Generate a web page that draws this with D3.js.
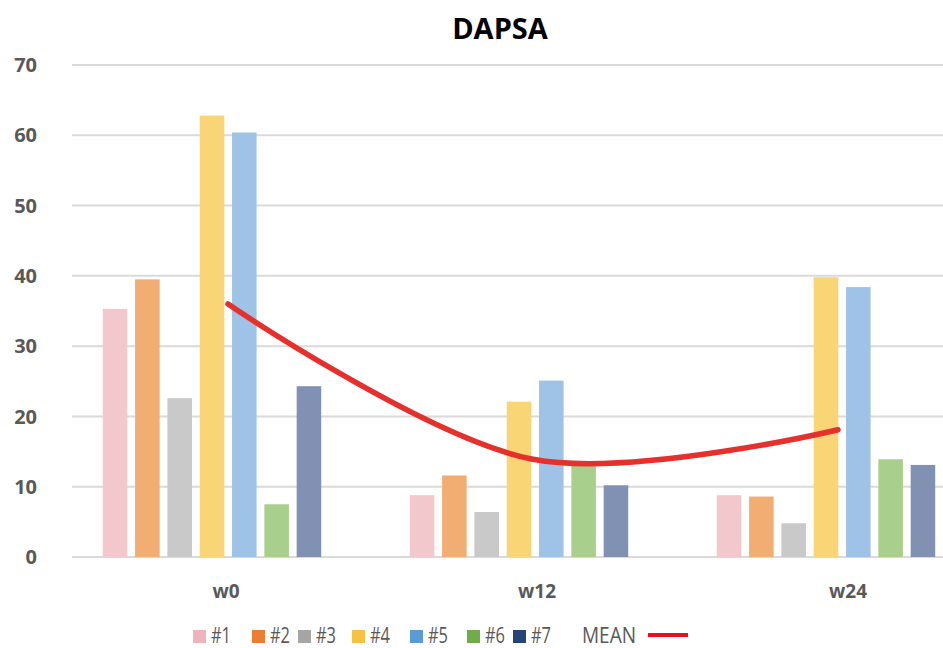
<!DOCTYPE html>
<html><head><meta charset="utf-8">
<script src="https://cdn.jsdelivr.net/npm/d3@7"></script>
<style>
html,body{margin:0;padding:0;background:#fff;}
svg{display:block;}
</style>
</head><body>
<svg id="chart" width="943" height="648"></svg>
<script>
const title = "DAPSA";
const categories = ["w0", "w12", "w24"];
const seriesNames = ["#1", "#2", "#3", "#4", "#5", "#6", "#7"];
const s1 = [35.3, 8.8, 8.8];
const s2 = [39.5, 11.6, 8.6];
const s3 = [22.6, 6.4, 4.8];
const s4 = [62.8, 22.1, 39.8];
const s5 = [60.4, 25.1, 38.4];
const s6 = [7.5, 13.4, 13.9];
const s7 = [24.3, 10.2, 13.1];
const meanValues = [36.0, 13.9, 18.1];
const meanLabel = "MEAN";
const yTicks = [0, 10, 20, 30, 40, 50, 60, 70];

const seriesValues = [s1, s2, s3, s4, s5, s6, s7];
const barColors = ["#f3c8cd", "#f1ad72", "#c9c9c9", "#f9d576", "#9fc3e7", "#a9cf8c", "#8191b3"];
const legendColors = ["#efb4bb", "#ed7d31", "#a5a5a5", "#f7c142", "#5b9bd5", "#70ad47", "#264478"];

const svg = d3.select("#chart");
const W = 943, H = 648;

const y = d3.scaleLinear().domain([0, 70]).range([557, 65]);
const x0 = d3.scaleBand().domain(categories).range([58.5, 979.5]).paddingInner(0).paddingOuter(0);
const x1 = d3.scaleBand().domain(seriesNames).range([0, x0.bandwidth()]).paddingInner(0.24).paddingOuter(1.37);
const xLabel = d3.scalePoint().domain(categories).range([226, 848]);
const xMean = d3.scalePoint().domain(categories).range([228, 838]);

// gridlines
svg.append("g").selectAll("line").data(yTicks).join("line")
  .attr("x1", 72).attr("x2", W)
  .attr("y1", d => y(d)).attr("y2", d => y(d))
  .attr("stroke", "#dadada").attr("stroke-width", 2);

// y tick labels
svg.append("g").selectAll("text").data(yTicks).join("text")
  .attr("x", 37).attr("y", d => y(d))
  .attr("dy", "0.36em")
  .attr("text-anchor", "end")
  .attr("font-family", "Open Sans, sans-serif")
  .attr("font-weight", "bold")
  .attr("font-size", 20)
  .attr("fill", "#595959")
  .text(d => d);

// bars
const groups = svg.append("g").selectAll("g").data(categories).join("g")
  .attr("transform", c => `translate(${x0(c)},0)`);
groups.selectAll("rect").data((c, ci) => seriesNames.map((s, si) => ({s, si, v: seriesValues[si][ci]})))
  .join("rect")
  .attr("x", d => x1(d.s))
  .attr("width", x1.bandwidth())
  .attr("y", d => y(d.v))
  .attr("height", d => y(0) - y(d.v))
  .attr("fill", d => barColors[d.si]);

// mean line
const line = d3.line()
  .x((d, i) => xMean(categories[i]))
  .y(d => y(d))
  .curve(d3.curveCatmullRom.alpha(0.5));
svg.append("path").datum(meanValues)
  .attr("d", line)
  .attr("fill", "none")
  .attr("stroke", "#e5302c")
  .attr("stroke-width", 5.5)
  .attr("stroke-linecap", "round");

// x labels
svg.append("g").selectAll("text").data(categories).join("text")
  .attr("x", c => xLabel(c)).attr("y", 598)
  .attr("text-anchor", "middle")
  .attr("font-family", "Open Sans, sans-serif")
  .attr("font-weight", "bold")
  .attr("font-size", 19)
  .attr("fill", "#595959")
  .text(c => c);

// title
svg.append("text")
  .attr("x", 500).attr("y", 39)
  .attr("text-anchor", "middle")
  .attr("font-family", "Open Sans, sans-serif")
  .attr("font-weight", "bold")
  .attr("font-size", 29)
  .attr("fill", "#000")
  .text(title);

// legend
const legendX = [193, 252, 298, 352, 410, 467, 513];
const leg = svg.append("g");
seriesNames.forEach((s, i) => {
  leg.append("rect").attr("x", legendX[i]).attr("y", 630).attr("width", 13).attr("height", 13)
    .attr("fill", legendColors[i]);
  leg.append("text").attr("x", legendX[i] + 18).attr("y", 643)
    .attr("font-family", "Open Sans, sans-serif")
    .attr("font-size", 21)
    .attr("textLength", 20)
    .attr("lengthAdjust", "spacingAndGlyphs")
    .attr("fill", "#595959")
    .text(s);
});
leg.append("text").attr("x", 582).attr("y", 643)
  .attr("font-family", "Open Sans, sans-serif")
  .attr("font-size", 21)
  .attr("textLength", 54)
  .attr("lengthAdjust", "spacingAndGlyphs")
  .attr("fill", "#595959")
  .text(meanLabel);
leg.append("line").attr("x1", 648).attr("x2", 688).attr("y1", 635).attr("y2", 635)
  .attr("stroke", "#e8101a").attr("stroke-width", 4);
</script>
</body></html>
